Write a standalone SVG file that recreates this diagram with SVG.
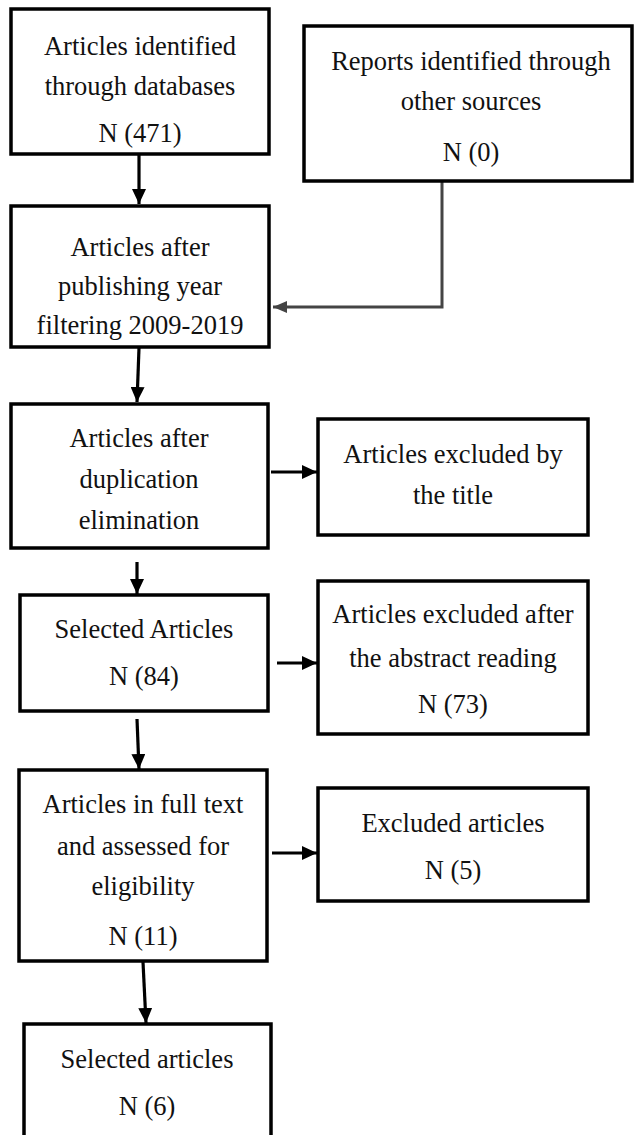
<svg xmlns="http://www.w3.org/2000/svg" width="634" height="1135" viewBox="0 0 634 1135">
  <style>
    .box { fill: #fff; stroke: #000; stroke-width: 3.5; }
    .t { font-family: 'Liberation Serif', 'DejaVu Serif', serif; font-size: 26.5px; fill: #111; text-anchor: middle; }
    .c { fill: none; stroke: #000; stroke-width: 3.2; }
    .g { fill: none; stroke: #444; stroke-width: 3; }
  </style>
  <defs>
    <marker id="ah" markerUnits="userSpaceOnUse" markerWidth="15" markerHeight="14" refX="15" refY="7" orient="auto">
      <path d="M0,0 L15,7 L0,14 z" fill="#000"/>
    </marker>
    <marker id="ahg" markerUnits="userSpaceOnUse" markerWidth="14" markerHeight="12" refX="14" refY="6" orient="auto">
      <path d="M0,0 L14,6 L0,12 z" fill="#444"/>
    </marker>
  </defs>
  <rect width="634" height="1135" fill="#fff"/>

  <g id="connectors">
    <line class="c" x1="139" y1="155" x2="139" y2="204" marker-end="url(#ah)"/>
    <polyline class="g" points="442,182 442,307 273,307" marker-end="url(#ahg)"/>
    <line class="c" x1="139" y1="348" x2="137" y2="402" marker-end="url(#ah)"/>
    <line class="c" x1="271" y1="472" x2="317" y2="472" marker-end="url(#ah)"/>
    <line class="c" x1="137" y1="562" x2="137" y2="594" marker-end="url(#ah)"/>
    <line class="c" x1="277" y1="663" x2="317" y2="663" marker-end="url(#ah)"/>
    <line class="c" x1="137" y1="719" x2="139" y2="769" marker-end="url(#ah)"/>
    <line class="c" x1="272" y1="853" x2="317" y2="853" marker-end="url(#ah)"/>
    <line class="c" x1="143" y1="962" x2="146" y2="1023" marker-end="url(#ah)"/>
  </g>

  <g id="n1">
    <rect class="box" x="11" y="9" width="258" height="145"/>
    <text class="t" x="140" y="55">Articles identified</text>
    <text class="t" x="140" y="95">through databases</text>
    <text class="t" x="140" y="142">N (471)</text>
  </g>
  <g id="n2">
    <rect class="box" x="304" y="26" width="328" height="155"/>
    <text class="t" x="471" y="70">Reports identified through</text>
    <text class="t" x="471" y="110">other sources</text>
    <text class="t" x="471" y="161">N (0)</text>
  </g>
  <g id="n3">
    <rect class="box" x="11" y="206" width="258" height="141"/>
    <text class="t" x="140" y="256">Articles after</text>
    <text class="t" x="140" y="295">publishing year</text>
    <text class="t" x="140" y="334">filtering 2009-2019</text>
  </g>
  <g id="n4">
    <rect class="box" x="11" y="404" width="257" height="144"/>
    <text class="t" x="139" y="447">Articles after</text>
    <text class="t" x="139" y="488">duplication</text>
    <text class="t" x="139" y="529">elimination</text>
  </g>
  <g id="n5">
    <rect class="box" x="318" y="419" width="270" height="116"/>
    <text class="t" x="453" y="463">Articles excluded by</text>
    <text class="t" x="453" y="504">the title</text>
  </g>
  <g id="n6">
    <rect class="box" x="20" y="595" width="248" height="116"/>
    <text class="t" x="144" y="638">Selected Articles</text>
    <text class="t" x="144" y="685">N (84)</text>
  </g>
  <g id="n7">
    <rect class="box" x="318" y="581" width="270" height="153"/>
    <text class="t" x="453" y="623">Articles excluded after</text>
    <text class="t" x="453" y="667">the abstract reading</text>
    <text class="t" x="453" y="713">N (73)</text>
  </g>
  <g id="n8">
    <rect class="box" x="19" y="770" width="248" height="191"/>
    <text class="t" x="143" y="813">Articles in full text</text>
    <text class="t" x="143" y="855">and assessed for</text>
    <text class="t" x="143" y="895">eligibility</text>
    <text class="t" x="143" y="945">N (11)</text>
  </g>
  <g id="n9">
    <rect class="box" x="318" y="788" width="270" height="113"/>
    <text class="t" x="453" y="832">Excluded articles</text>
    <text class="t" x="453" y="879">N (5)</text>
  </g>
  <g id="n10">
    <rect class="box" x="24" y="1024" width="247" height="125"/>
    <text class="t" x="147" y="1068">Selected articles</text>
    <text class="t" x="147" y="1115">N (6)</text>
  </g>
</svg>
